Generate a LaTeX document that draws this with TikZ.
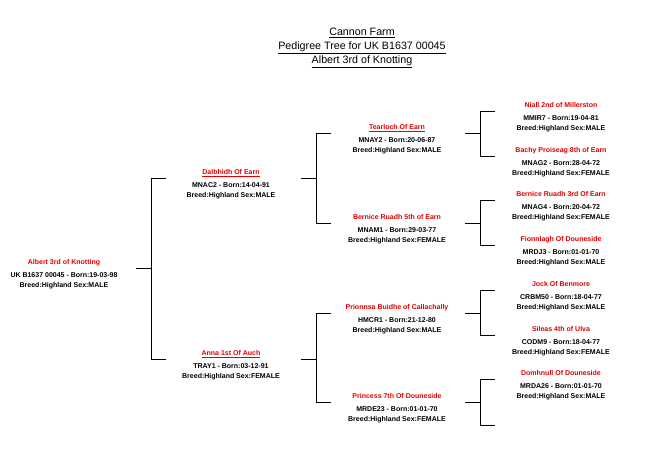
\documentclass[tikz,border=0pt]{standalone}
\usepackage{fontspec}
\setmainfont{Liberation Sans}
\usetikzlibrary{positioning,calc}
\definecolor{namered}{RGB}{225,0,0}

\tikzset{
  animal/.style={anchor=south, inner sep=0pt, text depth=3.5pt, text=namered,
    font=\bfseries\fontsize{7}{8}\selectfont},
  info/.style={inner sep=0pt, align=center, font=\bfseries\fontsize{7}{10}\selectfont},
  link/.style={draw=black, line width=0.8pt}
}

\begin{document}
\begin{tikzpicture}[x=1pt,y=-1pt]
    \useasboundingbox (0,0) rectangle (649,456);

    % Heading
    \node[align=center, font=\fontsize{10.7}{14}\selectfont] (title) at (362,48)
      {\underline{Cannon Farm}\\\underline{Pedigree Tree for UK B1637 00045}\\\underline{Albert 3rd of Knotting}};

    % Bracket columns
    \coordinate (c1) at (151,0);
    \coordinate (c2) at (316,0);
    \coordinate (c3) at (480,0);

    % Calf
    \node[animal] (alb) at (64,268) {Albert 3rd of Knotting};
    \node[info, below=4.6pt of alb] (alb-i) {UK B1637 00045 - Born:19-03-98\\Breed:Highland Sex:MALE};

    % Parents
    \node[animal] (dal) at (231,178) {\underline{Dalbhidh Of Earn}};
    \node[info, below=4.6pt of dal] (dal-i) {MNAC2 - Born:14-04-91\\Breed:Highland Sex:MALE};
    \node[animal] (ann) at (231,359) {\underline{Anna 1st Of Auch}};
    \node[info, below=4.6pt of ann] (ann-i) {TRAY1 - Born:03-12-91\\Breed:Highland Sex:FEMALE};

    % Grandparents
    \node[animal] (tea) at (397,133) {\underline{Tearloch Of Earn}};
    \node[info, below=4.6pt of tea] (tea-i) {MNAY2 - Born:20-06-87\\Breed:Highland Sex:MALE};
    \node[animal] (ber) at (397,223) {Bernice Ruadh 5th of Earn};
    \node[info, below=4.6pt of ber] (ber-i) {MNAM1 - Born:29-03-77\\Breed:Highland Sex:FEMALE};
    \node[animal] (prn) at (397,313) {Prionnsa Buidhe of Callachally};
    \node[info, below=4.6pt of prn] (prn-i) {HMCR1 - Born:21-12-80\\Breed:Highland Sex:MALE};
    \node[animal] (prc) at (397,402) {Princess 7th Of Douneside};
    \node[info, below=4.6pt of prc] (prc-i) {MRDE23 - Born:01-01-70\\Breed:Highland Sex:FEMALE};

    % Great grandparents
    \node[animal] (nia) at (561,111) {Niall 2nd of Millerston};
    \node[info, below=4.6pt of nia] (nia-i) {MMIR7 - Born:19-04-81\\Breed:Highland Sex:MALE};
    \node[animal] (bac) at (561,156) {Bachy Proiseag 8th of Earn};
    \node[info, below=4.6pt of bac] (bac-i) {MNAG2 - Born:28-04-72\\Breed:Highland Sex:FEMALE};
    \node[animal] (brr) at (561,200) {Bernice Ruadh 3rd Of Earn};
    \node[info, below=4.6pt of brr] (brr-i) {MNAG4 - Born:20-04-72\\Breed:Highland Sex:FEMALE};
    \node[animal] (fio) at (561,245) {Fionnlagh Of Douneside};
    \node[info, below=4.6pt of fio] (fio-i) {MRDJ3 - Born:01-01-70\\Breed:Highland Sex:MALE};
    \node[animal] (joc) at (561,290) {Jock Of Benmore};
    \node[info, below=4.6pt of joc] (joc-i) {CRBM50 - Born:18-04-77\\Breed:Highland Sex:MALE};
    \node[animal] (sil) at (561,335) {Sileas 4th of Ulva};
    \node[info, below=4.6pt of sil] (sil-i) {CODM9 - Born:18-04-77\\Breed:Highland Sex:FEMALE};
    \node[animal] (dom) at (561,379) {Domhnull Of Douneside};
    \node[info, below=4.6pt of dom] (dom-i) {MRDA26 - Born:01-01-70\\Breed:Highland Sex:MALE};
    \coordinate (prc-dam) at (561,425); % dam not recorded

    % Draw brackets
    \draw[link] ($(alb.south -| c1)+(-15,0)$) -- (alb.south -| c1);
    \draw[link] ($(dal.south -| c1)+(15,0)$) -- (dal.south -| c1) -- (ann.south -| c1) -- ($(ann.south -| c1)+(15,0)$);

    \draw[link] ($(dal.south -| c2)+(-15,0)$) -- (dal.south -| c2);
    \draw[link] ($(tea.south -| c2)+(15,0)$) -- (tea.south -| c2) -- (ber.south -| c2) -- ($(ber.south -| c2)+(15,0)$);
    \draw[link] ($(ann.south -| c2)+(-15,0)$) -- (ann.south -| c2);
    \draw[link] ($(prn.south -| c2)+(15,0)$) -- (prn.south -| c2) -- (prc.south -| c2) -- ($(prc.south -| c2)+(15,0)$);

    \draw[link] ($(tea.south -| c3)+(-15,0)$) -- (tea.south -| c3);
    \draw[link] ($(nia.south -| c3)+(15,0)$) -- (nia.south -| c3) -- (bac.south -| c3) -- ($(bac.south -| c3)+(15,0)$);
    \draw[link] ($(ber.south -| c3)+(-15,0)$) -- (ber.south -| c3);
    \draw[link] ($(brr.south -| c3)+(15,0)$) -- (brr.south -| c3) -- (fio.south -| c3) -- ($(fio.south -| c3)+(15,0)$);
    \draw[link] ($(prn.south -| c3)+(-15,0)$) -- (prn.south -| c3);
    \draw[link] ($(joc.south -| c3)+(15,0)$) -- (joc.south -| c3) -- (sil.south -| c3) -- ($(sil.south -| c3)+(15,0)$);
    \draw[link] ($(prc.south -| c3)+(-15,0)$) -- (prc.south -| c3);
    \draw[link] ($(dom.south -| c3)+(15,0)$) -- (dom.south -| c3) -- (prc-dam -| c3) -- ($(prc-dam -| c3)+(15,0)$);
\end{tikzpicture}
\end{document}
